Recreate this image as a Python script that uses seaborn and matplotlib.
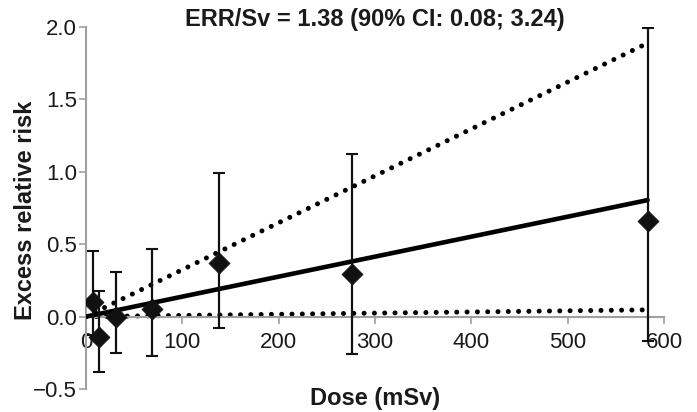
import matplotlib
matplotlib.use("Agg")
import matplotlib.pyplot as plt
import seaborn as sns
import numpy as np
import pandas as pd

# Data
dose = [7, 13.5, 31, 69, 138.5, 276, 583]
err = [0.10, -0.14, 0.00, 0.05, 0.37, 0.295, 0.66]
ci_low = [-0.13, -0.38, -0.25, -0.27, -0.08, -0.255, -0.17]
ci_high = [0.455, 0.175, 0.31, 0.47, 0.99, 1.12, 1.99]

fit_dose = [0, 583]
slope_central = 1.38  # per Sv
slope_low = 0.08
slope_high = 3.24

title_text = "ERR/Sv = 1.38 (90% CI: 0.08; 3.24)"
x_ticks = [0, 100, 200, 300, 400, 500, 600]
y_ticks = [-0.5, 0.0, 0.5, 1.0, 1.5, 2.0]

sns.set_theme(style="white")
plt.rcParams['font.family'] = ['Liberation Sans', 'DejaVu Sans']

fig = plt.figure(figsize=(6.97, 4.12), dpi=100)
ax = fig.add_axes([86/697, 1 - 389/412, (664-86)/697, (389-27)/412])

fit_df = pd.DataFrame({
    "dose": fit_dose * 3,
    "err": [d / 1000 * s for s in (slope_central, slope_low, slope_high) for d in fit_dose],
    "fit": ["central"] * 2 + ["low"] * 2 + ["high"] * 2,
})

sns.lineplot(data=fit_df[fit_df.fit == "central"], x="dose", y="err", color="black",
             linewidth=3.3, ax=ax, zorder=3)
for name in ("low", "high"):
    sub = fit_df[fit_df.fit == name]
    sns.lineplot(data=sub, x="dose", y="err", color="black", linewidth=3.6,
                 linestyle=(0, (0.01, 2.05)), ax=ax, zorder=2)
lines = ax.get_lines()
for line in lines[1:]:
    line.set_dash_capstyle("round")

pts = pd.DataFrame({"dose": dose, "err": err})
yerr = np.array([[e - l for e, l in zip(err, ci_low)], [h - e for e, h in zip(err, ci_high)]])
ax.errorbar(dose, err, yerr=yerr, fmt="none", ecolor="#111111", elinewidth=1.6,
            capsize=4, capthick=1.5, zorder=4)
sns.scatterplot(data=pts, x="dose", y="err", marker="D", s=115, color="#111111",
                edgecolor="#111111", linewidth=0.5, ax=ax, zorder=5)

ax.set_xlim(0, 600)
ax.set_ylim(-0.5, 2.0)
ax.set_xticks(x_ticks)
ax.set_yticks(y_ticks)
ax.set_xticklabels([str(t) for t in x_ticks])
ax.set_yticklabels(["\u22120.5"] + [f"{t:.1f}" for t in y_ticks[1:]])

for s in ("top", "right"):
    ax.spines[s].set_visible(False)
ax.spines["bottom"].set_position(("data", 0))
for s in ("left", "bottom"):
    ax.spines[s].set_color("#a0a0a0")
    ax.spines[s].set_linewidth(1.5)
ax.tick_params(axis="both", which="major", direction="out", length=5, width=1.2,
               color="#a0a0a0", labelsize=16, labelcolor="#1a1a1a",
               bottom=True, left=True)
ax.tick_params(axis="x", pad=6)
ax.tick_params(axis="y", pad=1.5)
ax.set_xlabel("")
ax.set_ylabel("")
ax.set_title(title_text, fontsize=17, fontweight="bold", color="#1a1a1a", pad=1)
fig.text(26/697, 1 - 210/412, "Excess relative risk", ha="center", va="center",
         rotation=90, fontsize=17, fontweight="bold", color="#1a1a1a")
fig.text(375/697, 1 - 398/412, "Dose (mSv)", ha="center", va="center",
         fontsize=17, fontweight="bold", color="#1a1a1a")
ax.grid(False)

fig.savefig("out.png", dpi=100)
